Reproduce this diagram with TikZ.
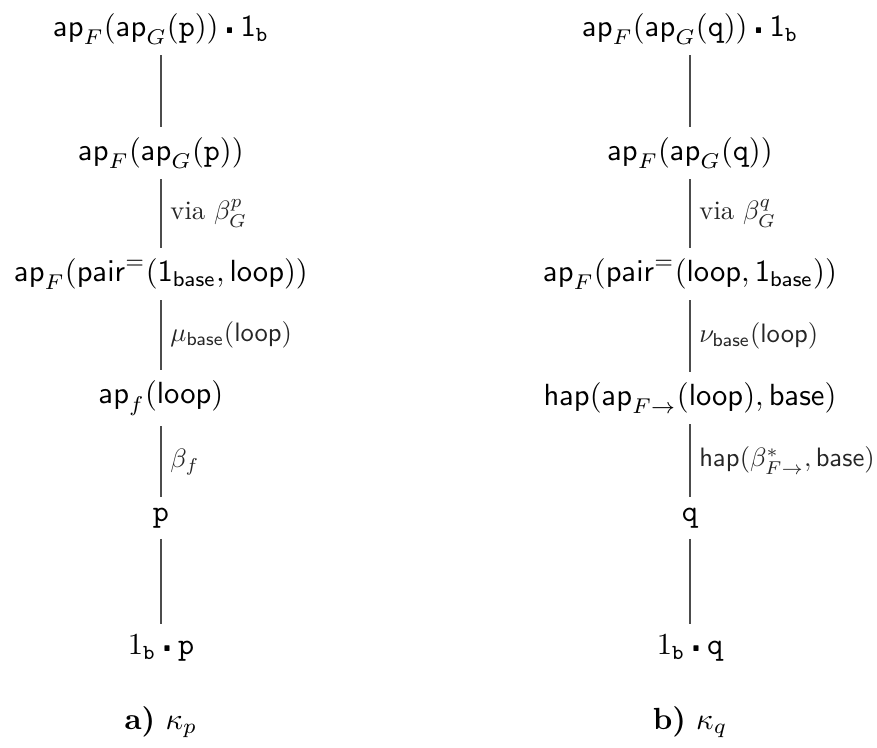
\documentclass[tikz,border=0pt]{standalone}
\usepackage{amsmath,amssymb}
\tikzset{
  term/.style={inner sep=3.333pt},
  conn/.style={draw=black!70, line width=0.45pt},
  lab/.style={right, inner sep=3.333pt, text=black!85, scale=0.87},
}
\newcommand{\ap}{\mathsf{ap}}
\newcommand{\cct}{\mathbin{\raisebox{0.25ex}{$\centerdot$}}}
\begin{document}
\begin{tikzpicture}[x=0.327pt,y=-0.327pt]
\useasboundingbox (0,0) rectangle (877,747);
% left column
\node[term] (a1) at (161,29) {$\ap_F(\ap_G(\mathtt{p})) \cct \mathsf{1}_{\mathtt{b}}$};
\node[term] (a2) at (161,153) {$\ap_F(\ap_G(\mathtt{p}))$};
\node[term] (a3) at (161,274) {$\ap_F(\mathsf{pair}^{=}(\mathsf{1}_{\mathsf{base}},\mathsf{loop}))$};
\node[term] (a4) at (161,398) {$\ap_f(\mathsf{loop})$};
\node[term] (a5) at (161,518) {$\mathtt{p}$};
\node[term] (a6) at (161,648) {$1_{\mathtt{b}} \cct \mathtt{p}$};
\node (ca) at (161,722) {\textbf{a)} $\kappa_p$};
\draw[conn] (a1) -- (a2);
\draw[conn] (a2) -- node[lab] {via $\beta_G^p$} (a3);
\draw[conn] (a3) -- node[lab] {$\mu_{\mathsf{base}}(\mathsf{loop})$} (a4);
\draw[conn] (a4) -- node[lab] {$\beta_f$} (a5);
\draw[conn] (a5) -- (a6);
% right column
\node[term] (b1) at (690,29) {$\ap_F(\ap_G(\mathtt{q})) \cct \mathsf{1}_{\mathtt{b}}$};
\node[term] (b2) at (690,153) {$\ap_F(\ap_G(\mathtt{q}))$};
\node[term] (b3) at (690,274) {$\ap_F(\mathsf{pair}^{=}(\mathsf{loop},\mathsf{1}_{\mathsf{base}}))$};
\node[term] (b4) at (690,398) {$\mathsf{hap}(\ap_{F\to}(\mathsf{loop}),\mathsf{base})$};
\node[term] (b5) at (690,518) {$\mathtt{q}$};
\node[term] (b6) at (690,648) {$1_{\mathtt{b}} \cct \mathtt{q}$};
\node (cb) at (690,722) {\textbf{b)} $\kappa_q$};
\draw[conn] (b1) -- (b2);
\draw[conn] (b2) -- node[lab] {via $\beta_G^q$} (b3);
\draw[conn] (b3) -- node[lab] {$\nu_{\mathsf{base}}(\mathsf{loop})$} (b4);
\draw[conn] (b4) -- node[lab] {$\mathsf{hap}(\beta^{*}_{F\to},\mathsf{base})$} (b5);
\draw[conn] (b5) -- (b6);
\end{tikzpicture}
\end{document}
